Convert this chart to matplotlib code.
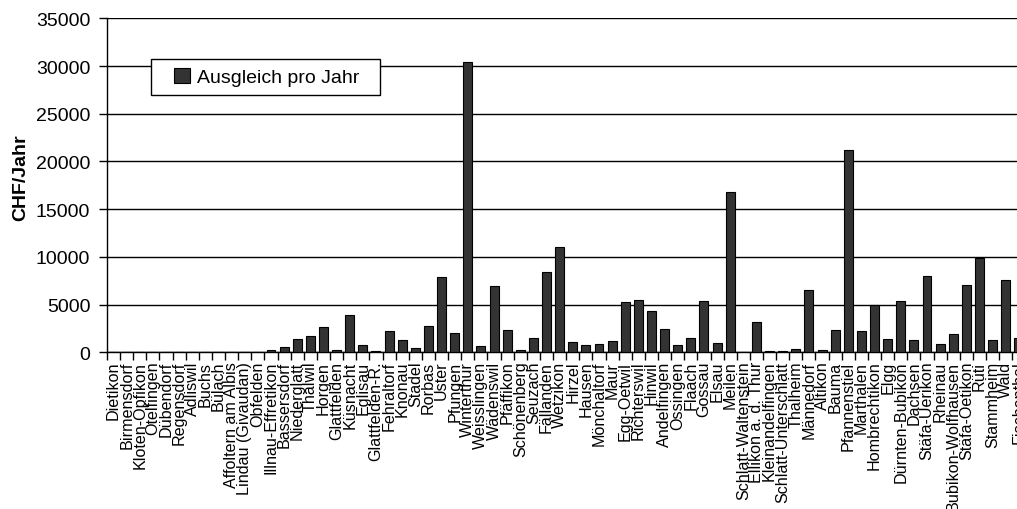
import matplotlib
matplotlib.use("Agg")
import matplotlib.pyplot as plt
from matplotlib.patches import Rectangle
import numpy as np

plt.rcParams['font.family'] = ['Liberation Sans', 'DejaVu Sans']

gemeinden = [
    "Dietikon", "Birmensdorf", "Kloten-Opfikon", "Otelfingen", "Dübendorf",
    "Regensdorf", "Adliswil", "Buchs", "Bülach", "Affoltern am Albis",
    "Lindau (Givaudan)", "Obfelden", "Illnau-Effretikon", "Bassersdorf",
    "Niederglatt", "Thalwil", "Horgen", "Glattfelden", "Küsnacht", "Eglisau",
    "Glattfelden-R.", "Fehraltorf", "Knonau", "Stadel", "Rorbas", "Uster",
    "Pfungen", "Winterthur", "Weisslingen", "Wädenswil", "Pfäffikon",
    "Schönenberg", "Seuzach", "Fällanden", "Wetzikon", "Hirzel", "Hausen",
    "Mönchaltorf", "Maur", "Egg-Oetwil", "Richterswil", "Hinwil",
    "Andelfingen", "Ossingen", "Flaach", "Gossau", "Elsau", "Meilen",
    "Schlatt-Waltenstein", "Ellikon a. d. Thur", "Kleinandelfingen",
    "Schlatt-Unterschlatt", "Thalheim", "Männedorf", "Altikon", "Bauma",
    "Pfannenstiel", "Marthalen", "Hombrechtikon", "Elgg", "Dürnten-Bubikon",
    "Dachsen", "Stäfa-Uerikon", "Rheinau", "Bubikon-Wolfhausen",
    "Stäfa-Oetikon", "Rüti", "Stammheim", "Wald", "Fischenthal",
]

ausgleich = [
    0, 0, 0, 0, 0,
    0, 0, 0, 0, 0,
    0, 0, 250, 550,
    1400, 1700, 2600, 250, 3900, 780,
    100, 2200, 1320, 420, 2720, 7850,
    2070, 30400, 640, 6950, 2380,
    250, 1540, 8400, 11000, 1120, 780,
    880, 1160, 5250, 5500, 4330,
    2480, 780, 1540, 5380, 980, 16800,
    60, 3150, 100,
    100, 380, 6580, 250, 2380,
    21200, 2200, 4950, 1430, 5380,
    1300, 7980, 880, 1920,
    7060, 9850, 1300, 7600, 1480,
]

y_ticks = [0, 5000, 10000, 15000, 20000, 25000, 30000, 35000]

W, H = 1017, 510
fig = plt.figure(figsize=(W / 100, H / 100), dpi=100)
fig.patch.set_facecolor("white")

n = len(gemeinden)
step = 13.12
ax = fig.add_axes([107 / W, 1 - 353.3 / H, n * step / W, (353.3 - 19.3) / H])

x = np.arange(n)
bars = ax.bar(x, ausgleich, width=0.68, color="#333333", edgecolor="black",
              linewidth=0.8, label="Ausgleich pro Jahr", zorder=3)

ax.set_xlim(-0.5, n - 0.5)
ax.set_ylim(0, 35000)
ax.set_yticks(y_ticks)
ax.set_yticklabels([str(v) for v in y_ticks], fontsize=14)
ax.yaxis.grid(True, color="black", linewidth=1.0, zorder=0)
ax.set_axisbelow(True)

ax.set_xticks(x)
ax.set_xticklabels(gemeinden, rotation=90, fontsize=11.6, va="top", ha="center")
ax.set_xticks(np.arange(n + 1) - 0.5, minor=True)
ax.tick_params(axis="x", which="major", length=0, pad=6)
ax.tick_params(axis="x", which="minor", length=6, width=1, color="black",
               direction="out")
ax.tick_params(axis="y", length=6, width=1, color="black", direction="out", pad=6)

for side in ("top", "right"):
    ax.spines[side].set_visible(False)
for side in ("left", "bottom"):
    ax.spines[side].set_color("black")
    ax.spines[side].set_linewidth(1.0)

fig.text(21 / W, 1 - 178 / H, "CHF/Jahr", rotation=90, fontsize=14,
         fontweight="bold", ha="center", va="center")

# legend box drawn as its own frame, entry placed inside
frame = Rectangle((151 / W, 1 - 96 / H), (380 - 151) / W, 36 / H,
                  transform=fig.transFigure, facecolor="white",
                  edgecolor="black", linewidth=1.0, zorder=4)
fig.patches.append(frame)
leg = fig.legend(handles=[bars], labels=["Ausgleich pro Jahr"],
                 loc="center left", bbox_to_anchor=(174 / W, 1 - 78 / H),
                 bbox_transform=fig.transFigure, fontsize=14, frameon=False,
                 handlelength=0.8, handleheight=0.8, handletextpad=0.4,
                 borderpad=0, borderaxespad=0)
leg.set_zorder(6)

fig.savefig("out.png", dpi=100, facecolor="white")
